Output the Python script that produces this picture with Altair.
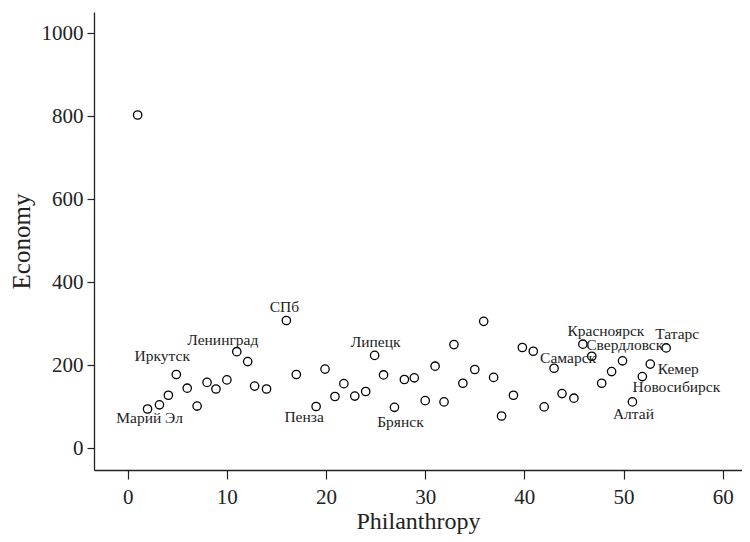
import altair as alt
import pandas as pd

# Philanthropy (x) and Economy (y) values
philanthropy = [1.0, 2.0, 3.2, 4.1, 4.9, 6.0, 7.0, 8.0, 8.9, 10.0,
                11.0, 12.1, 12.8, 14.0, 16.0, 17.0, 19.0, 19.9, 20.9, 21.8,
                22.9, 24.0, 24.9, 25.8, 26.9, 27.9, 28.9, 30.0, 31.0, 31.9,
                32.9, 33.8, 35.0, 35.9, 36.9, 37.7, 38.9, 39.8, 40.9, 42.0,
                43.0, 43.8, 45.0, 45.9, 46.8, 47.8, 48.8, 49.9, 50.9, 51.9,
                52.7, 54.3]
economy = [803, 95, 105, 128, 178, 145, 102, 159, 143, 165,
           233, 209, 150, 143, 308, 178, 101, 191, 125, 156,
           126, 137, 224, 177, 99, 166, 170, 115, 198, 112,
           250, 157, 190, 306, 171, 78, 128, 243, 234, 100,
           193, 132, 121, 251, 222, 157, 185, 211, 112, 173,
           203, 242]
region = [""] * len(philanthropy)
region[1] = "Марий Эл"
region[4] = "Иркутск"
region[10] = "Ленинград"
region[14] = "СПб"
region[16] = "Пенза"
region[22] = "Липецк"
region[24] = "Брянск"
region[40] = "Самарск"
region[43] = "Красноярск"
region[44] = "Свердловск"
region[48] = "Алтай"
region[49] = "Новосибирск"
region[50] = "Кемер"
region[51] = "Татарс"

x_ticks = [0, 10, 20, 30, 40, 50, 60]
y_ticks = [0, 200, 400, 600, 800, 1000]

# label placement (pixel offsets from each point), kept apart from data
label_offsets = {
    "Марий Эл": (2, 14),
    "Иркутск": (-14, -13),
    "Ленинград": (-14, -7),
    "СПб": (-2, -9),
    "Пенза": (-12, 16),
    "Липецк": (1, -8),
    "Брянск": (6, 20),
    "Самарск": (14, -5),
    "Красноярск": (23, -8),
    "Свердловск": (33, -6),
    "Алтай": (1, 17),
    "Новосибирск": (34, 15),
    "Кемер": (28, 10),
    "Татарс": (11, -9),
}

df = pd.DataFrame({"Philanthropy": philanthropy, "Economy": economy, "Region": region})

FONT = "Liberation Serif"
INK = "#222222"

xscale = alt.Scale(domain=[-3.4, 61.95], nice=False, zero=False)
yscale = alt.Scale(domain=[-52, 1051], nice=False, zero=False)

axis_style = dict(
    grid=False, domainColor=INK, domainWidth=1.3, tickColor=INK, tickWidth=1.2,
    labelFont=FONT, labelFontSize=21, labelColor=INK,
    titleFont=FONT, titleFontWeight="normal", titleColor=INK,
    format="d",
)

base = alt.Chart(df)

points = base.mark_point(
    shape="circle", filled=False, size=70, stroke="black", strokeWidth=1.3, opacity=1
).encode(
    x=alt.X("Philanthropy:Q", scale=xscale,
            axis=alt.Axis(values=x_ticks, title="Philanthropy", tickSize=9,
                          labelPadding=7, titlePadding=2, titleFontSize=24,
                          **axis_style)),
    y=alt.Y("Economy:Q", scale=yscale,
            axis=alt.Axis(values=y_ticks, title="Economy", tickSize=7,
                          labelPadding=4, titlePadding=7, titleFontSize=25,
                          **axis_style)),
)

layers = [points]
for name, (dx, dy) in label_offsets.items():
    layers.append(
        base.transform_filter(alt.datum.Region == name)
        .mark_text(font=FONT, fontSize=15.5, color=INK, align="center",
                   baseline="alphabetic", dx=dx, dy=dy)
        .encode(x="Philanthropy:Q", y="Economy:Q", text="Region:N")
    )

chart = alt.layer(*layers).properties(
    width=648, height=458,
    autosize=alt.AutoSizeParams(type="none"),
    padding={"left": 86, "top": 4, "right": 0, "bottom": 64},
).configure_view(stroke=None)

chart.save("out.html", embed_options={"renderer": "svg", "actions": False})
